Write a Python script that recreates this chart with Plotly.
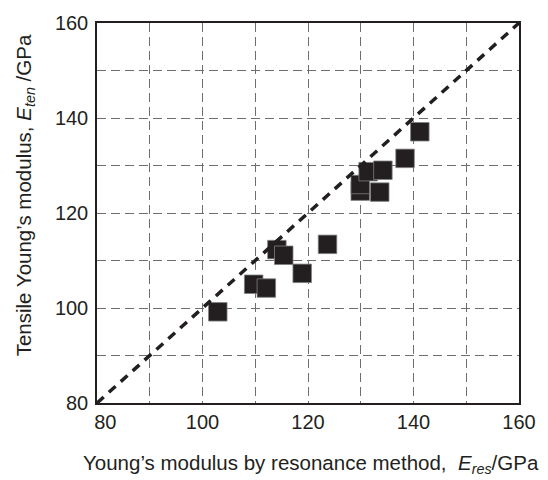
import plotly.graph_objects as go

# Data
e_res = [102.9, 109.7, 112.1, 114.1, 115.4, 118.9, 123.7, 129.9, 129.9, 131.4, 134.2, 133.6, 138.4, 141.2]
e_ten = [99.2, 105.0, 104.2, 112.3, 111.1, 107.3, 113.4, 124.6, 126.0, 128.7, 129.0, 124.4, 131.5, 137.1]

line_x = [80, 160]
line_y = [80, 160]

tick_vals = [80, 100, 120, 140, 160]
x_tick_text = ["\u00a0\u00a0\u00a080", "100", "120", "140", "160"]
y_tick_text = ["80", "100", "120", "140", "160"]

ink = "#231f20"
font_family = "Liberation Sans, Arial, Helvetica, sans-serif"

fig = go.Figure()
fig.add_trace(go.Scatter(
    x=e_res, y=e_ten, mode="markers",
    marker=dict(symbol="square", size=18.5, color=ink,
                line=dict(color="#808080", width=0.8)),
    showlegend=False, hoverinfo="skip",
))
fig.add_trace(go.Scatter(
    x=line_x, y=line_y, mode="lines",
    line=dict(color=ink, width=3.5, dash="9px,7px"),
    showlegend=False, hoverinfo="skip",
))

axis_common = dict(
    range=[80, 160], tickvals=tick_vals,
    showline=True, mirror=True, linecolor=ink, linewidth=1.5,
    ticks="", zeroline=False,
    showgrid=True, gridcolor="#6e6e6e", gridwidth=1.2, griddash="9px,5px",
    minor=dict(dtick=10, tick0=80, showgrid=True, gridcolor="#6e6e6e",
               gridwidth=1.2, griddash="9px,5px"),
    tickfont=dict(family=font_family, size=20, color=ink),
)

fig.update_layout(
    width=548, height=480,
    margin=dict(l=97, r=27, t=16, b=77),
    paper_bgcolor="white", plot_bgcolor="white",
    xaxis=dict(**axis_common, ticktext=x_tick_text),
    yaxis=dict(**axis_common, ticktext=y_tick_text, ticklabelstandoff=3),
    font=dict(family=font_family, color=ink),
    annotations=[
        dict(text="Young\u2019s modulus by resonance method,  <i>E</i><sub><i>res</i></sub>/GPa",
             xref="paper", yref="paper", x=0.5, y=0, xanchor="center", yanchor="middle",
             xshift=3, yshift=-61, showarrow=False,
             font=dict(family=font_family, size=20.5, color=ink)),
        dict(text="Tensile Young\u2019s modulus, <i>E</i><sub><i>ten</i></sub> /GPa",
             xref="paper", yref="paper", x=0, y=0.5466, xanchor="center", yanchor="middle",
             xshift=-72, textangle=-90, showarrow=False,
             font=dict(family=font_family, size=20.5, color=ink)),
    ],
)

fig.write_html("out.html", config={"displayModeBar": False},
               post_script="document.body.style.margin='0';document.body.style.overflow='hidden';")
